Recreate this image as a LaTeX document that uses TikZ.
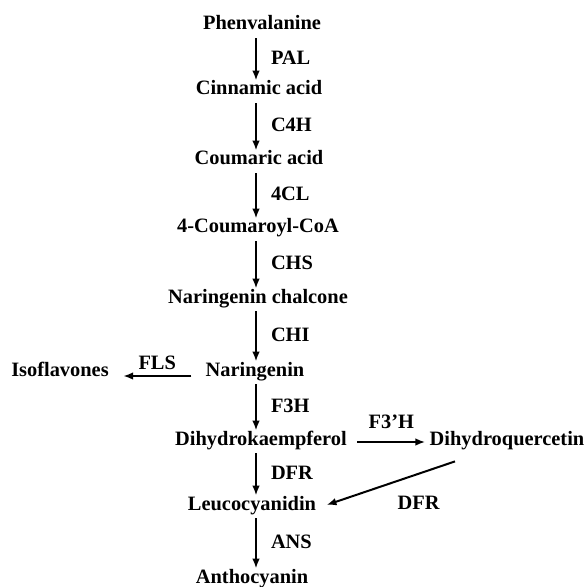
\documentclass[tikz,border=0pt]{standalone}
\usepackage{fontspec}
\setmainfont{Liberation Serif}
\usetikzlibrary{arrows.meta,positioning}

\begin{document}
\begin{tikzpicture}[x=0.5pt,y=-0.5pt,
  cmp/.style={font=\bfseries\fontsize{10.2}{12}\selectfont,text height=7pt,text depth=2pt,inner sep=2pt},
  enz/.style={font=\bfseries\fontsize{10.2}{12}\selectfont,inner sep=1pt},
  ar/.style={-{Latex[length=5pt,width=3.8pt]},line width=1pt}]
\useasboundingbox (0,0) rectangle (585,587);
\coordinate (spine) at (256,0);
% compounds
\node[cmp] (phe) at (262,25) {Phenvalanine};
\node[cmp] (cin) at (259,90) {Cinnamic acid};
\node[cmp] (cou) at (259,160) {Coumaric acid};
\node[cmp] (cca) at (258,228) {4-Coumaroyl-CoA};
\node[cmp] (nch) at (258,298) {Naringenin chalcone};
\node[cmp] (nar) at (255,371) {Naringenin};
\node[cmp] (iso) at (60,371) {Isoflavones};
\node[cmp] (dhk) at (261,440) {Dihydrokaempferol};
\node[cmp] (dhq) at (507,440) {Dihydroquercetin};
\node[cmp] (leu) at (252,505) {Leucocyanidin};
\node[cmp] (ant) at (252,578) {Anthocyanin};
% main pathway
\foreach \a/\b/\e in {phe/cin/PAL,cin/cou/C4H,cou/cca/4CL,cca/nch/CHS,nch/nar/CHI,nar/dhk/F3H,dhk/leu/DFR,leu/ant/ANS}
  \draw[ar,shorten >=-2pt] (\a.south -| spine) -- node[enz,right=6pt] {\e} (\b.north -| spine);
% side branches
\draw[ar] ([xshift=-5pt,yshift=-2.5pt]nar.west) -- node[enz,above=1.5pt] {FLS} ([xshift=5pt,yshift=-2.5pt]iso.east);
\draw[ar] ([xshift=3pt,yshift=-1pt]dhk.east) -- node[enz,above=5pt] {F3'H} ([yshift=-1pt]dhq.west);
\draw[ar] ([xshift=-26pt,yshift=-4pt]dhq.south) -- node[enz,below right=5pt and 2pt] {DFR} ([xshift=3pt]leu.east);
\end{tikzpicture}
\end{document}
